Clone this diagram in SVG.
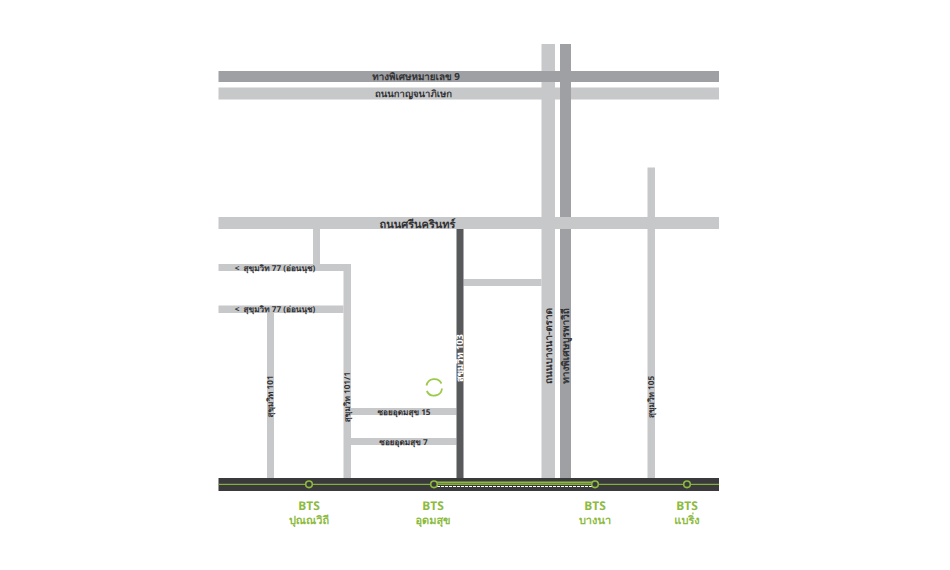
<svg xmlns="http://www.w3.org/2000/svg" width="950" height="570" viewBox="0 0 950 570">
<style>
.l{fill:#c7c8ca}
.d{fill:#9fa0a3}
text{font-family:"Noto Sans","DejaVu Sans",sans-serif;font-weight:700;fill:#333335;text-anchor:middle;text-rendering:geometricPrecision}
.s{font-size:8.2px}
.m{font-size:9.5px}
.b{font-size:11px}
.g{fill:#8dbb3f;font-size:11px}
.h{fill:#8dbb3f;font-size:12px}
.st{fill:#3a3a3c;stroke:#8dbb3f;stroke-width:1.6}
</style>
<rect width="950" height="570" fill="#fff"/>
<g id="connectors">
<rect class="l" x="541.5" y="44" width="13.5" height="434"/>
<rect class="l" x="218.5" y="87.5" width="500.5" height="12"/>
<rect class="d" x="218.5" y="71" width="500.5" height="11"/>
<rect class="d" x="560" y="44" width="11" height="434"/>
<rect class="l" x="218.5" y="217" width="500.5" height="12"/>
<rect class="l" x="313" y="229" width="7" height="35"/>
<rect class="l" x="218.5" y="264" width="132.5" height="7"/>
<rect class="l" x="218.5" y="305.5" width="125" height="7.500"/>
<rect class="l" x="343.500" y="264" width="7.500" height="214"/>
<rect class="l" x="267" y="313" width="7" height="165"/>
<rect class="l" x="351" y="408" width="105.500" height="7"/>
<rect class="l" x="351" y="438" width="105.500" height="7"/>
<rect class="l" x="463.500" y="279" width="78" height="7"/>
<rect class="l" x="647.500" y="167.500" width="7.500" height="310.500"/>
<rect x="456.500" y="229" width="7" height="249" fill="#58595b"/>
<rect x="218.500" y="478" width="500.500" height="13" fill="#3a3a3c"/>
<rect x="218.500" y="483.800" width="500.500" height="1.100" fill="#8dbb3f"/>
<rect x="434" y="481.500" width="161" height="2" fill="#8dbb3f"/>
<line x1="437" y1="486.500" x2="592" y2="486.500" stroke="#fff" stroke-width="1" stroke-dasharray="3 1"/>
</g>
<g id="road-labels">
<text x="416" y="80" style="font-size:9.800px">ทางพิเศษหมายเลข 9</text>
<text class="m" x="413.500" y="97">ถนนกาญจนาภิเษก</text>
<text class="b" x="417.500" y="227.500">ถนนศรีนครินทร์</text>
<text class="s" x="275" y="270.500">&lt;&#160;&#160;สุขุมวิท 77 (อ่อนนุช)</text>
<text class="s" x="275" y="311.500">&lt;&#160;&#160;สุขุมวิท 77 (อ่อนนุช)</text>
<text class="s" x="404" y="414.500">ซอยอุดมสุข 15</text>
<text class="s" x="403.500" y="445">ซอยอุดมสุข 7</text>
<text class="s" transform="translate(273,396.500) rotate(-90)">สุขุมวิท 101</text>
<text class="s" transform="translate(350,397) rotate(-90)">สุขุมวิท 101/1</text>
<text transform="translate(463,358) rotate(-90)" style="fill:#fff;font-size:9.300px">สุขุมวิท 103</text>
<text class="m" transform="translate(552,346) rotate(-90)" style="font-size:10px">ถนนบางนา-ตราด</text>
<text class="m" transform="translate(569,346) rotate(-90)" style="font-size:10px">ทางพิเศษบูรพาวิถี</text>
<text class="s" transform="translate(654,397) rotate(-90)">สุขุมวิท 105</text>
</g>
<g id="station-puniwithi"><circle class="st" cx="309" cy="484.300" r="3.300"/><text class="h" x="309" y="510">BTS</text><text class="g" x="309" y="524">ปุณณวิถี</text></g>
<g id="station-udomsuk"><circle class="st" cx="434" cy="484.300" r="3.300"/><text class="h" x="433" y="510">BTS</text><text class="g" x="433" y="524">อุดมสุข</text></g>
<g id="station-bangna"><circle class="st" cx="595" cy="484.300" r="3.300"/><text class="h" x="595" y="510">BTS</text><text class="g" x="595" y="524">บางนา</text></g>
<g id="station-bearing"><circle class="st" cx="687" cy="484.300" r="3.300"/><text class="h" x="687" y="510">BTS</text><text class="g" x="687" y="524">แบริ่ง</text></g>
<g id="site-marker" fill="none" stroke="#9ccb4a" stroke-width="1.800">
<path d="M426.500 385.500A8 8 0 0 1 441.500 383.500"/>
<path d="M442 388.500A8 8 0 0 1 426.800 391"/>
</g>
</svg>
